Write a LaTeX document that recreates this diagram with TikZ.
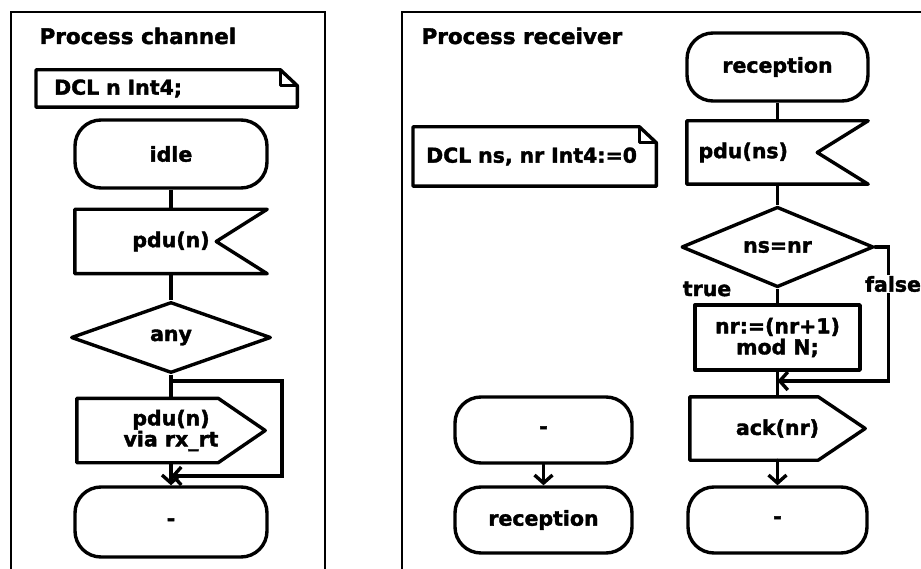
\documentclass[tikz,border=0pt]{standalone}
\usepackage{fontspec}
\setmainfont{DejaVu Sans}[BoldFeatures={FakeBold=1.8}]
\usetikzlibrary{positioning,arrows.meta,shapes.geometric,calc}

\begin{document}
\begin{tikzpicture}[
    x=1pt, y=-1pt,
    >={Straight Barb[length=8pt,width=18pt]},
    every node/.style = {font=\fontsize{20.5}{21}\selectfont\bfseries},
    frame/.style      = {draw=black, line width=2.6pt},
    shp/.style        = {draw=black, line width=3.4pt, line join=round},
    state/.style      = {shp, rectangle, rounded corners=26pt, minimum width=190pt,
                          minimum height=68pt},
    sig/.style        = {rectangle, minimum height=64pt},
    decision/.style   = {shp, diamond, inner sep=0pt},
    task/.style       = {shp, rectangle, align=center},
    note/.style       = {rectangle, anchor=west, align=left, inner ysep=2pt},
    line/.style       = {draw=black, line width=3.4pt},
    arr/.style        = {->, line, line cap=round},
    title/.style      = {anchor=base west, font=\fontsize{21.5}{23}\selectfont\bfseries},
    label/.style      = {fill=white, inner sep=1pt},
]
\useasboundingbox (0,0) rectangle (921,569);

% frames of the two processes
\draw[frame] (11,569) -- (11,12) -- (325,12) -- (325,569);
\draw[frame] (402,569) -- (402,12) -- (921,12);

% Process channel
\node[title] (tchan) at (36,44) {Process channel};
\node[note, minimum width=261pt, minimum height=37pt, text width=225pt, inner xsep=18pt]
    (dclL) at (36,88.5) {DCL n Int4;};

\node[state, minimum width=192pt] (idle) at (171,154) {idle};
\node[sig, minimum width=192pt, text width=150pt, align=center] (pduL) at (171,241.5) {pdu(n)};
\node[decision, minimum width=200pt, minimum height=71pt] (any) at (171,337.5) {any};
\node[sig, minimum width=188pt, align=center] (outL) at (171,430.5) {pdu(n)\\via rx\_rt};
\node[state, minimum width=192pt, minimum height=70pt] (endL) at (171,522) {-};

\draw[line] (idle) -- (pduL);
\draw[line] (pduL) -- (any);
\draw[line] (any) -- (outL);
\draw[arr] (outL) -- (endL);
\coordinate (loopL) at (171,381);
\coordinate (joinL) at (171,476);
\draw[arr] (loopL) -- ++(111,0) |- (joinL);

% Process receiver
\node[title] (trec) at (418,44) {Process receiver};
\node[note, minimum width=243pt, minimum height=59pt, text width=217pt, inner xsep=13pt]
    (dclR) at (413,156.5) {DCL ns, nr Int4:=0};

\node[state, minimum width=181pt] (rec) at (777.5,67) {reception};
\node[sig, minimum width=181pt, minimum height=63pt, text width=158pt, align=left]
    (pduR) at (777.5,152.5) {pdu(ns)};
\node[decision, minimum width=192pt, minimum height=72pt] (test) at (777.5,247) {ns=nr};
\node[task, minimum width=165pt, minimum height=65pt] (inc) at (777.5,337.5) {nr:=(nr+1)\\mod N;};
\node[sig, minimum width=175pt, minimum height=63pt] (ack) at (777.5,428.5) {ack(nr)};
\node[state, minimum width=179pt, minimum height=66pt] (endR) at (777.5,520) {-};

\node[state, minimum width=177pt, minimum height=66pt] (dash) at (543.5,430) {-};
\node[state, minimum width=177pt, minimum height=66pt] (recB) at (543.5,520) {reception};

\draw[line] (rec) -- (pduR);
\draw[line] (pduR) -- (test);
\draw[line] (test) -- (inc);
\draw[line] (inc) -- (ack);
\draw[arr] (ack) -- (endR);
\draw[arr] (dash) -- (recB);

\coordinate (joinR) at (777.5,381);
\draw[arr] (test.east) -- ++(13,0) |- (joinR);
\node[label] (lfalse) at (893,284) {false};
\node (ltrue) at (707,289) {true};

% outlines: text symbols, signal inputs, signal outputs
\foreach \n in {dclL, dclR} {
    \draw[shp] (\n.south west) -- (\n.north west) -- ([xshift=-17pt]\n.north east)
        -- ([yshift=-16pt]\n.north east) -- (\n.south east) -- cycle;
    \draw[shp] ([xshift=-17pt]\n.north east) |- ([yshift=-16pt]\n.north east);
}
\foreach \n in {pduL, pduR} {
    \draw[shp] (\n.north west) -- (\n.north east) -- ([xshift=-51pt]\n.east)
        -- (\n.south east) -- (\n.south west) -- cycle;
}
\foreach \n in {outL, ack} {
    \draw[shp] (\n.north west) -- ([xshift=-47pt]\n.north east) -- (\n.east)
        -- ([xshift=-47pt]\n.south east) -- (\n.south west) -- cycle;
}

\end{tikzpicture}
\end{document}
